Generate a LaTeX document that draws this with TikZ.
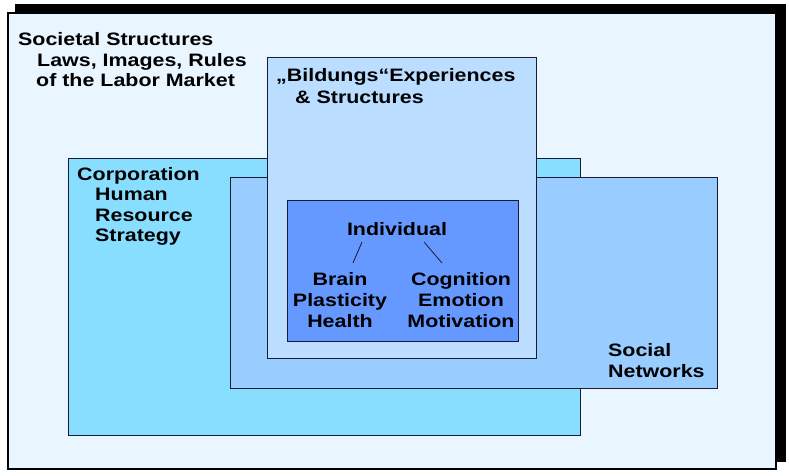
\documentclass[tikz,border=0pt]{standalone}
\usepackage{fontspec}
\setmainfont[FakeStretch=1.19]{Liberation Sans}
\definecolor{framefill}{HTML}{EAF6FF}
\definecolor{corpfill}{HTML}{88DEFF}
\definecolor{socfill}{HTML}{99CCFF}
\definecolor{bildfill}{HTML}{BBDDFF}
\definecolor{indfill}{HTML}{6699FF}
\definecolor{edge}{HTML}{1A1A33}
\tikzset{
  area/.style={draw=edge, line width=0.9pt, anchor=north west, inner sep=0pt, outer sep=0pt},
  lbl/.style={anchor=base west, inner sep=0pt, font=\bfseries\fontsize{18}{20}\selectfont, text=black},
  clbl/.style={anchor=base, inner sep=0pt, font=\bfseries\fontsize{18}{20}\selectfont, text=black},
  link/.style={draw=edge, line width=0.8pt}
}
\begin{document}
\begin{tikzpicture}[x=1pt,y=-1pt]
\useasboundingbox (0,0) rectangle (789,476);
\fill[white] (0,0) rectangle (789,476);
% shadow and frame
\node[fill=black, anchor=north west, inner sep=0pt, minimum width=771pt, minimum height=458pt] (shadow) at (15,4) {};
\node[area, draw=black, line width=2pt, fill=framefill, minimum width=768pt, minimum height=456pt] (frame) at (8,13) {};
% regions
\node[area, fill=corpfill, minimum width=512pt, minimum height=277pt] (corp) at (68,158) {};
\node[area, fill=socfill, minimum width=487pt, minimum height=211pt] (soc) at (230,177) {};
\node[area, fill=bildfill, minimum width=269pt, minimum height=301pt] (bild) at (267,57) {};
\node[area, fill=indfill, minimum width=231pt, minimum height=141pt] (ind) at (287,200) {};
% texts
\node[lbl] (soc1) at (18,46) {Societal Structures};
\node[lbl] (soc2) at (37,67) {Laws, Images, Rules};
\node[lbl] (soc3) at (36,87) {of the Labor Market};
\node[lbl] (bil1) at (276,82) {„Bildungs“Experiences};
\node[lbl] (bil2) at (295,103) {\& Structures};
\node[lbl] (cor1) at (77,180) {Corporation};
\node[lbl] (cor2) at (95,200.5) {Human};
\node[lbl] (cor3) at (95,221) {Resource};
\node[lbl] (cor4) at (95,241.5) {Strategy};
\node[lbl] (net1) at (608,356) {Social};
\node[lbl] (net2) at (608,377) {Networks};
\node[clbl] (indl) at (397,235) {Individual};
\node[clbl] (br1) at (340,285) {Brain};
\node[clbl] (br2) at (340,306) {Plasticity};
\node[clbl] (br3) at (340,327) {Health};
\node[clbl] (co1) at (461,285) {Cognition};
\node[clbl] (co2) at (461,306) {Emotion};
\node[clbl] (co3) at (461,327) {Motivation};
% connectors
\coordinate (la) at (362,242);
\coordinate (lb) at (353,263);
\coordinate (ra) at (424,242);
\coordinate (rb) at (442,263);
\draw[link] (la) -- (lb);
\draw[link] (ra) -- (rb);
\end{tikzpicture}
\end{document}
